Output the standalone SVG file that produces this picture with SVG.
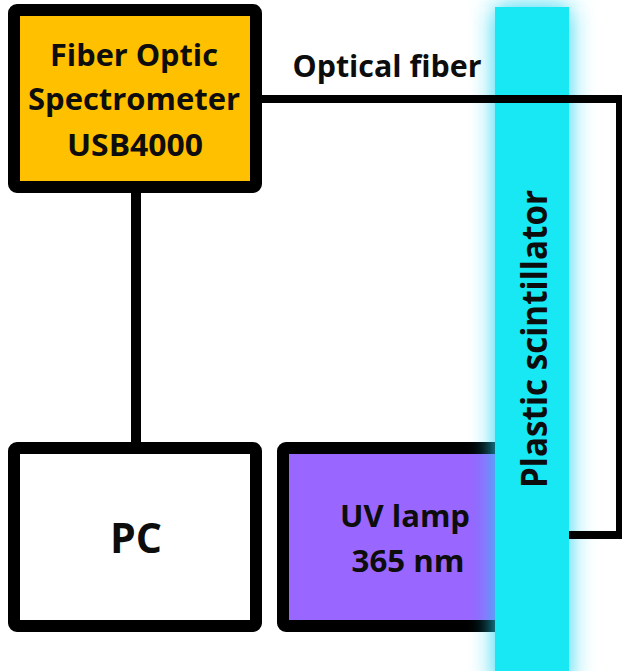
<svg xmlns="http://www.w3.org/2000/svg" width="622" height="671" viewBox="0 0 622 671">
  <style>
    .box { stroke: #000; stroke-width: 12; stroke-linejoin: round; }
    .lbl { font-family: "Open Sans", Lato, "Liberation Sans", sans-serif; font-weight: 700; fill: #0d0d0d; text-anchor: middle; }
    .wire { fill: none; stroke: #000; stroke-linejoin: miter; }
  </style>
  <defs>
    <filter id="glow" x="-50%" y="-10%" width="200%" height="120%">
      <feGaussianBlur stdDeviation="12"/>
    </filter>
    <linearGradient id="fade" gradientUnits="userSpaceOnUse" x1="569" y1="0" x2="600" y2="0">
      <stop offset="0" stop-color="#0c5862"/>
      <stop offset="1" stop-color="#000"/>
    </linearGradient>
  </defs>
  <rect width="622" height="671" fill="#fff"/>

  <g id="spectrometer">
    <rect class="box" x="14" y="10" width="242" height="177" rx="3" fill="#FFC000"/>
    <text class="lbl" x="134" y="66" font-size="31" textLength="168" lengthAdjust="spacingAndGlyphs">Fiber Optic</text>
    <text class="lbl" x="134" y="110" font-size="31" textLength="212" lengthAdjust="spacingAndGlyphs">Spectrometer</text>
    <text class="lbl" x="135" y="156" font-size="31" textLength="136" lengthAdjust="spacingAndGlyphs">USB4000</text>
  </g>

  <g id="pc">
    <rect class="box" x="14" y="448" width="242" height="178" rx="3" fill="#fff"/>
    <text class="lbl" x="136" y="553" font-size="42" textLength="52" lengthAdjust="spacingAndGlyphs">PC</text>
  </g>

  <g id="uv-lamp">
    <rect class="box" x="283" y="448" width="230" height="178" rx="3" fill="#9966FF"/>
    <text class="lbl" x="405" y="527" font-size="31" textLength="130" lengthAdjust="spacingAndGlyphs">UV lamp</text>
    <text class="lbl" x="408" y="572" font-size="31" textLength="113" lengthAdjust="spacingAndGlyphs">365 nm</text>
  </g>

  <g id="scintillator">
    <rect x="495" y="7" width="74" height="680" fill="#22d4f2" filter="url(#glow)"/>
    <rect x="495" y="7" width="74" height="680" fill="#17E8F4"/>
    <text class="lbl" transform="translate(547,339) rotate(-90)" font-size="36" textLength="298" lengthAdjust="spacingAndGlyphs">Plastic scintillator</text>
  </g>

  <g id="connectors">
    <path class="wire" stroke-width="10" d="M136 193 V442"/>
    <path class="wire" stroke-width="8" d="M262 99 H620 V531"/>
    <path class="wire" stroke-width="8" stroke="url(#fade)" d="M624 535 H569"/>
    <text class="lbl" x="387" y="77" font-size="31" textLength="189" lengthAdjust="spacingAndGlyphs">Optical fiber</text>
  </g>
</svg>
